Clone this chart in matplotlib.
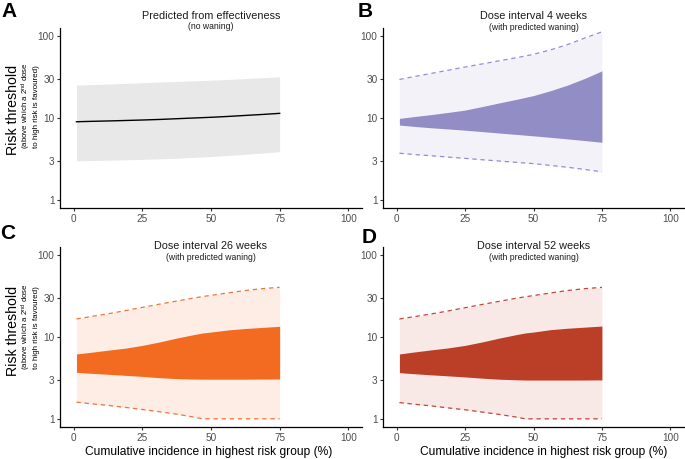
import matplotlib
matplotlib.use("Agg")
import matplotlib.pyplot as plt

plt.rcParams['font.family'] = ['Liberation Sans', 'DejaVu Sans']
plt.rcParams['mathtext.fontset'] = 'custom'
plt.rcParams['mathtext.rm'] = 'Liberation Sans'
plt.rcParams['mathtext.it'] = 'Liberation Sans:italic'
plt.rcParams['mathtext.bf'] = 'Liberation Sans:bold'

# ---------------- data ----------------
x_top = [1, 6.25, 12.5, 18.75, 25, 31.25, 37.5, 43.75, 50, 56.25, 62.5, 68.75, 75]
x_bot = [1, 6.25, 12.5, 18.75, 25, 31.25, 37.5, 43.75, 47, 50, 56.25, 62.5, 68.75, 75]

# Panel A: predicted from effectiveness (no waning)
a_line = [9.0, 9.1, 9.2, 9.32, 9.45, 9.6, 9.8, 10.0, 10.2, 10.45, 10.75, 11.05, 11.4]
a_upper = [25.2, 25.6, 26.0, 26.5, 27.0, 27.5, 28.0, 28.5, 29.0, 29.6, 30.3, 31.1, 31.9]
a_lower = [3.0, 3.02, 3.05, 3.08, 3.12, 3.17, 3.22, 3.3, 3.38, 3.48, 3.6, 3.73, 3.88]

# Panel B: dose interval 4 weeks
b_outer_upper = [29.6, 32.0, 35.0, 38.3, 42.0, 45.8, 50.0, 54.5, 60.0, 68.0, 79.0, 95.0, 113.0]
b_inner_upper = [9.9, 10.4, 11.0, 11.7, 12.5, 13.8, 15.3, 16.9, 18.8, 21.6, 25.3, 30.5, 37.7]
b_inner_lower = [8.2, 7.9, 7.6, 7.35, 7.1, 6.82, 6.55, 6.3, 6.05, 5.8, 5.55, 5.3, 5.05]
b_outer_lower = [3.71, 3.58, 3.46, 3.33, 3.21, 3.09, 2.98, 2.87, 2.77, 2.63, 2.5, 2.35, 2.2]

# Panel C: dose interval 26 weeks
c_outer_upper = [16.6, 17.8, 19.2, 21.0, 23.0, 25.2, 27.5, 30.0, 31.2, 32.3, 34.6, 37.0, 39.0, 40.5]
c_inner_upper = [6.2, 6.5, 6.9, 7.3, 7.9, 8.7, 9.7, 10.7, 11.2, 11.5, 12.2, 12.7, 13.1, 13.5]
c_inner_lower = [3.7, 3.6, 3.5, 3.4, 3.3, 3.18, 3.1, 3.06, 3.05, 3.05, 3.05, 3.05, 3.06, 3.07]
c_outer_lower = [1.6, 1.53, 1.46, 1.38, 1.3, 1.22, 1.14, 1.05, 1.0, 1.0, 1.0, 1.0, 1.0, 1.0]

# Panel D: dose interval 52 weeks
d_outer_upper = [16.6, 17.7, 19.1, 20.8, 22.8, 25.0, 27.3, 29.8, 31.0, 32.1, 34.5, 37.0, 39.0, 40.4]
d_inner_upper = [6.2, 6.55, 6.95, 7.35, 7.9, 8.7, 9.7, 10.7, 11.2, 11.5, 12.3, 12.8, 13.2, 13.6]
d_inner_lower = [3.67, 3.56, 3.45, 3.35, 3.25, 3.14, 3.05, 3.0, 2.98, 2.98, 2.98, 2.98, 2.98, 2.99]
d_outer_lower = [1.58, 1.51, 1.44, 1.36, 1.29, 1.21, 1.13, 1.05, 1.0, 1.0, 1.0, 1.0, 1.0, 1.0]

x_ticks = [0, 25, 50, 75, 100]
y_ticks = [1, 3, 10, 30, 100]
y_ticklabels = ["1", "3", "10", "30", "100"]

titles = ["Predicted from effectiveness", "Dose interval 4 weeks",
          "Dose interval 26 weeks", "Dose interval 52 weeks"]
subtitles = ["(no waning)", "(with predicted waning)",
             "(with predicted waning)", "(with predicted waning)"]
letters = ["A", "B", "C", "D"]

# ---------------- layout ----------------
W, H = 685, 459
fig = plt.figure(figsize=(W / 100, H / 100), dpi=100)


def rect(l, r, t, b):
    return [l / W, 1 - b / H, (r - l) / W, (b - t) / H]


axA = fig.add_axes(rect(60, 362, 28, 208))
axB = fig.add_axes(rect(383, 684, 28, 208))
axC = fig.add_axes(rect(60, 362, 247, 427))
axD = fig.add_axes(rect(383, 684, 247, 427))
axes = [axA, axB, axC, axD]

TICKCOL = '#4d4d4d'
for ax in axes:
    ax.set_yscale('log')
    ax.set_xlim(-5, 105)
    ax.set_ylim(10 ** -0.1, 10 ** 2.1)
    ax.set_xticks(x_ticks)
    ax.set_xticklabels([str(t) for t in x_ticks])
    ax.set_yticks(y_ticks)
    ax.set_yticklabels(y_ticklabels)
    ax.yaxis.set_minor_locator(matplotlib.ticker.NullLocator())
    for s in ['top', 'right']:
        ax.spines[s].set_visible(False)
    for s in ['left', 'bottom']:
        ax.spines[s].set_linewidth(0.9)
        ax.spines[s].set_color('black')
    ax.tick_params(axis='both', length=2.5, width=0.8, color='#333333',
                   labelsize=7.2, labelcolor=TICKCOL, pad=1.5)
    ax.set_facecolor('none')

# Panel A
axA.fill_between(x_top, a_lower, a_upper, color='#e8e8e8', lw=0)
axA.plot(x_top, a_line, color='black', lw=1.0)

DASH = (0, (3.5, 3.0))


def draw_bands(ax, x, ou, iu, il, ol, outer_col, inner_col, line_col):
    ax.fill_between(x, ol, ou, color=outer_col, lw=0)
    ax.fill_between(x, il, iu, color=inner_col, lw=0)
    ax.plot(x, ou, color=line_col, lw=0.9, ls=DASH)
    ax.plot(x, ol, color=line_col, lw=0.9, ls=DASH)


draw_bands(axB, x_top, b_outer_upper, b_inner_upper, b_inner_lower, b_outer_lower,
           '#f3f2f9', '#938dc5', '#968cd2')
draw_bands(axC, x_bot, c_outer_upper, c_inner_upper, c_inner_lower, c_outer_lower,
           '#fdede5', '#f36b21', '#f2733a')
draw_bands(axD, x_bot, d_outer_upper, d_inner_upper, d_inner_lower, d_outer_lower,
           '#f8e8e6', '#bb3e26', '#c4453a')

# ---------------- texts ----------------
def ftext(x, y, s, **kw):
    fig.text(x / W, 1 - y / H, s, **kw)


title_x = [211, 533.5, 211, 533.5]
title_y = [19.3, 19.3, 249.3, 249.3]
sub_y = [29.3, 29.5, 260, 260]
for i in range(4):
    ftext(title_x[i], title_y[i], titles[i], ha='center', va='baseline',
          fontsize=7.85, color='#1a1a1a')
    ftext(title_x[i], sub_y[i], subtitles[i], ha='center', va='baseline',
          fontsize=6.2, color='#1a1a1a')

letter_pos = [(1, 16.7), (358, 16.7), (0, 239), (361.5, 242.5)]
for (lx, ly), L in zip(letter_pos, letters):
    ftext(lx, ly, L, ha='left', va='baseline', fontsize=15, fontweight='bold',
          color='black')

for yc in [110, 331]:
    ftext(12.8, yc, "Risk threshold", rotation=90, ha='center', va='center',
          fontsize=10.2, color='black')
    ftext(26.3, yc - 4, r"(above which a 2$^{\mathrm{nd}}$ dose", rotation=90,
          ha='center', va='center', fontsize=5.7, color='black')
    ftext(36.3, yc - 3, "to high risk is favoured)", rotation=90,
          ha='center', va='center', fontsize=5.8, color='black')

for xc in [209, 544]:
    ftext(xc, 452.5, "Cumulative incidence in highest risk group (%)",
          ha='center', va='center', fontsize=8.65, color='black')

fig.savefig('out.png', dpi=100)
